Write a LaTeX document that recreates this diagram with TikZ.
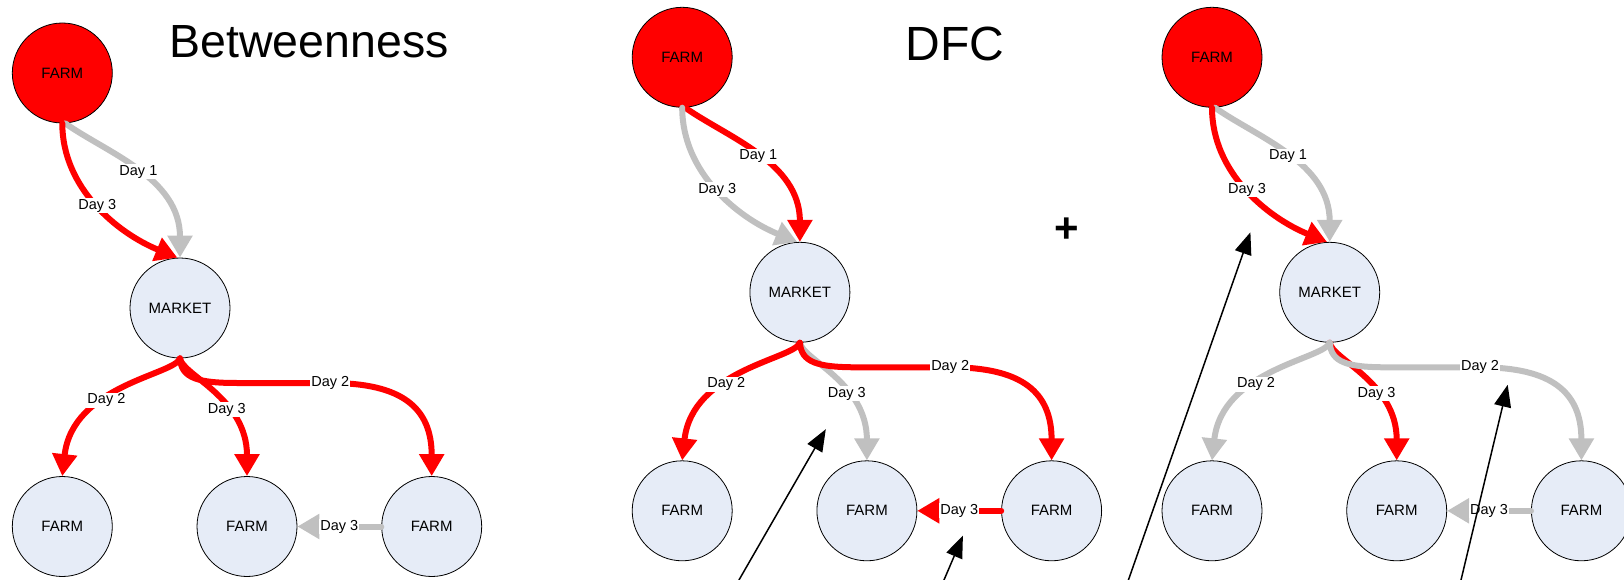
\documentclass[tikz,border=0pt]{standalone}
\usepackage{fontspec}
\setmainfont{Liberation Sans}
\usetikzlibrary{arrows.meta}
\definecolor{farmred}{HTML}{FF0000}
\definecolor{edgegray}{HTML}{C0C0C0}
\definecolor{nodefill}{HTML}{E6ECF7}
\begin{document}
\begin{tikzpicture}[x=1pt,y=-1pt,
  farm/.style={circle, draw=black, line width=0.8pt, fill=nodefill, minimum size=100pt, inner sep=0pt, font=\fontsize{15}{18}\selectfont},
  redfarm/.style={farm, fill=farmred},
  edge/.style={line width=6pt, line cap=round, -{Triangle[length=22pt,width=24pt]}},
  redge/.style={edge, draw=farmred},
  gedge/.style={edge, draw=edgegray},
  lbl/.style={fill=white, inner sep=1pt, text=black, font=\fontsize{14.5}{16}\selectfont},
  pointer/.style={draw=black, line width=1.5pt, -{Triangle[length=22pt,width=17pt]}}
]
\useasboundingbox (0,0) rectangle (1624,580);

% titles
\node[anchor=base, font=\fontsize{46.5}{52}\selectfont] (title1) at (309,57.5) {Betweenness};
\node[anchor=base, font=\fontsize{48}{54}\selectfont] (title2) at (955,61) {DFC};
\node[font=\bfseries\fontsize{42}{48}\selectfont] (plus) at (1066.9,230) {+};

% ---------- panel 1 ----------
\begin{scope}[shift={(62.3,73)}]
 \node[redfarm] (aT) at (0,0) {FARM};
 \node[farm] (aM) at (117.7,235) {MARKET};
 \node[farm] (aB1) at (0,453.5) {FARM};
 \node[farm] (aB2) at (184.7,453.5) {FARM};
 \node[farm] (aB3) at (369.4,453.5) {FARM};
 \draw[gedge] ([xshift=3pt]aT.south) .. controls (45,80) and (117.7,105) .. node[lbl,pos=0.5]{Day 1} (aM.north);
 \draw[redge] (aT.south) .. controls (0,115) and (55,160) .. node[lbl,pos=0.5]{Day 3} (aM.93);
 \draw[redge] (aM.south) .. controls (112,302) and (10,312) .. node[lbl,pos=0.6]{Day 2} (aB1.north);
 \draw[redge] (aM.south) .. controls (120,302) and (184.7,325) .. node[lbl,pos=0.63]{Day 3} (aB2.north);
 \draw[redge] (aM.south) .. controls (119,305) and (135,310) .. (175,310) -- (268,310) node[lbl]{Day 2} .. controls (340,310) and (369.4,335) .. (aB3.north);
 \draw[gedge] (aB3.west) -- node[lbl]{Day 3} (aB2.east);
\end{scope}

% ---------- panel 2 ----------
\begin{scope}[shift={(682.2,57.3)}]
 \node[redfarm] (bT) at (0,0) {FARM};
 \node[farm] (bM) at (117.7,235) {MARKET};
 \node[farm] (bB1) at (0,453.5) {FARM};
 \node[farm] (bB2) at (184.7,453.5) {FARM};
 \node[farm] (bB3) at (369.4,453.5) {FARM};
 \draw[redge] ([xshift=3pt]bT.south) .. controls (45,80) and (117.7,105) .. node[lbl,pos=0.5]{Day 1} (bM.north);
 \draw[gedge] (bT.south) .. controls (0,115) and (55,160) .. node[lbl,pos=0.5]{Day 3} (bM.93);
 \draw[gedge] (bM.south) .. controls (120,302) and (184.7,325) .. node[lbl,pos=0.63]{Day 3} (bB2.north);
 \draw[redge] (bM.south) .. controls (112,302) and (10,312) .. node[lbl,pos=0.6]{Day 2} (bB1.north);
 \draw[redge] (bM.south) .. controls (119,305) and (135,310) .. (175,310) -- (268,310) node[lbl]{Day 2} .. controls (340,310) and (369.4,335) .. (bB3.north);
 \draw[redge] (bB3.west) -- node[lbl]{Day 3} (bB2.east);
\end{scope}

% ---------- panel 3 ----------
\begin{scope}[shift={(1212,57.3)}]
 \node[redfarm] (cT) at (0,0) {FARM};
 \node[farm] (cM) at (117.7,235) {MARKET};
 \node[farm] (cB1) at (0,453.5) {FARM};
 \node[farm] (cB2) at (184.7,453.5) {FARM};
 \node[farm] (cB3) at (369.4,453.5) {FARM};
 \draw[gedge] ([xshift=3pt]cT.south) .. controls (45,80) and (117.7,105) .. node[lbl,pos=0.5]{Day 1} (cM.north);
 \draw[redge] (cT.south) .. controls (0,115) and (55,160) .. node[lbl,pos=0.5]{Day 3} (cM.93);
 \draw[redge] (cM.south) .. controls (120,302) and (184.7,325) .. node[lbl,pos=0.63]{Day 3} (cB2.north);
 \draw[gedge] (cM.south) .. controls (112,302) and (10,312) .. node[lbl,pos=0.6]{Day 2} (cB1.north);
 \draw[gedge] (cM.south) .. controls (119,305) and (135,310) .. (175,310) -- (268,310) node[lbl]{Day 2} .. controls (340,310) and (369.4,335) .. (cB3.north);
 \draw[gedge] (cB3.west) -- node[lbl]{Day 3} (cB2.east);
\end{scope}

% ---------- black pointers ----------
\coordinate (p1s) at (733.2,590);  \coordinate (p1e) at (825.8,429.2);
\coordinate (p2s) at (939.7,590);  \coordinate (p2e) at (962.9,535.7);
\coordinate (p3s) at (1124.9,590); \coordinate (p3e) at (1250.4,232.3);
\coordinate (p4s) at (1458.6,590); \coordinate (p4e) at (1507.7,384.8);
\draw[pointer] (p1s) -- (p1e);
\draw[pointer] (p2s) -- (p2e);
\draw[pointer] (p3s) -- (p3e);
\draw[pointer] (p4s) -- (p4e);
\end{tikzpicture}
\end{document}
